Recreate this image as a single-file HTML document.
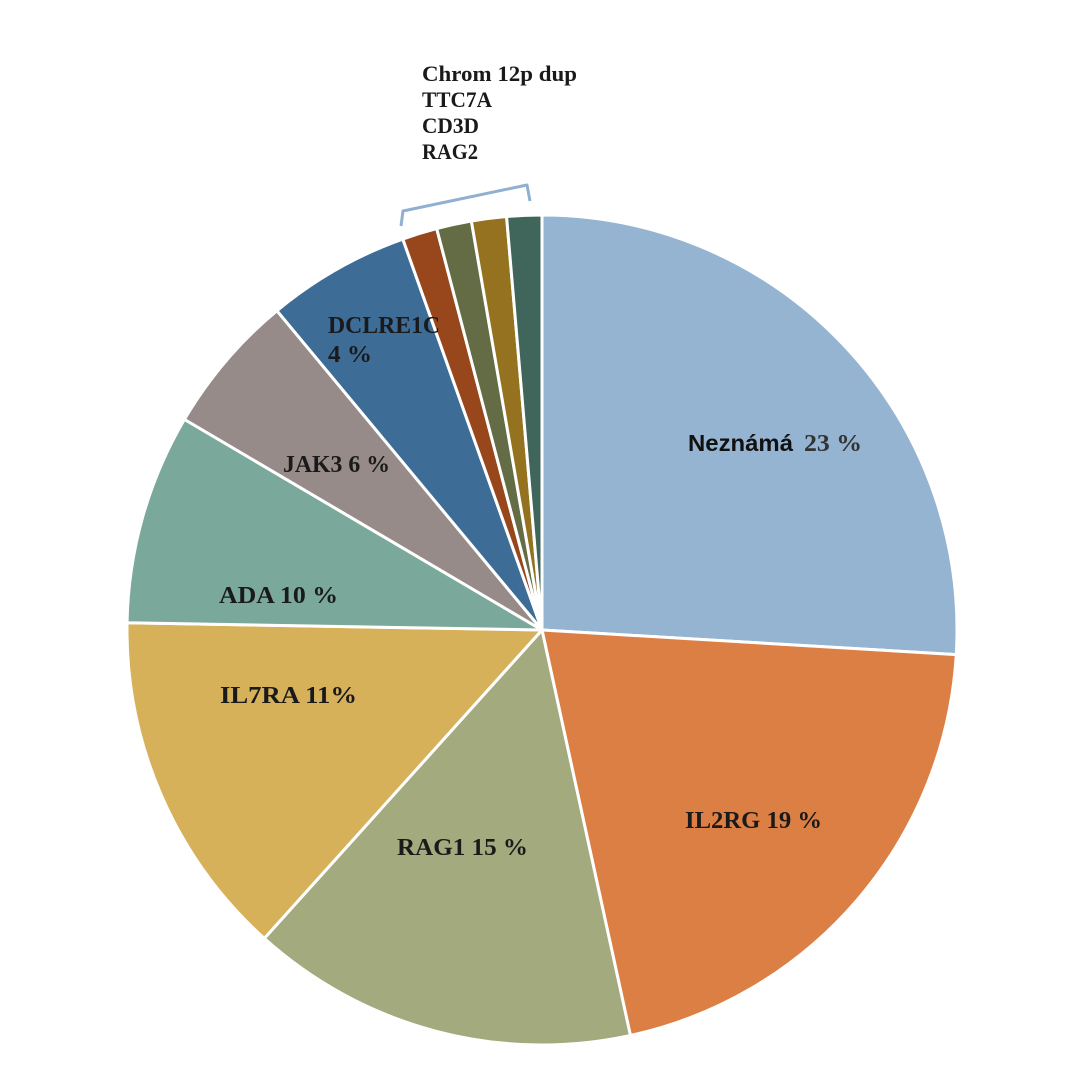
<!DOCTYPE html>
<html><head><meta charset="utf-8"><style>
html,body{margin:0;padding:0;background:#fff;width:1080px;height:1080px;overflow:hidden}
</style></head><body>
<svg id="s" width="1080" height="1080" xmlns="http://www.w3.org/2000/svg">
<g id="pie"></g>
<path d="M401,226 L403,211 L527,185 L530,201" fill="none" stroke="#8fb0d0" stroke-width="3" stroke-linejoin="round"/>
<g font-family="Liberation Serif, serif" font-weight="bold" font-size="22" fill="#1a1a1a" lengthAdjust="spacingAndGlyphs">
<text x="422" y="81" textLength="155" lengthAdjust="spacingAndGlyphs">Chrom 12p dup</text>
<text x="422" y="107" textLength="70" lengthAdjust="spacingAndGlyphs">TTC7A</text>
<text x="422" y="133" textLength="57" lengthAdjust="spacingAndGlyphs">CD3D</text>
<text x="422" y="159" textLength="56" lengthAdjust="spacingAndGlyphs">RAG2</text>
<text x="685" y="828" font-size="24" textLength="137" lengthAdjust="spacingAndGlyphs">IL2RG 19 %</text>
<text x="397" y="855" font-size="24" textLength="131" lengthAdjust="spacingAndGlyphs">RAG1 15 %</text>
<text x="220" y="703" font-size="24" textLength="137" lengthAdjust="spacingAndGlyphs">IL7RA 11%</text>
<text x="219" y="603" font-size="24" textLength="119" lengthAdjust="spacingAndGlyphs">ADA 10 %</text>
<text x="283" y="472" font-size="24" textLength="107" lengthAdjust="spacingAndGlyphs">JAK3 6 %</text>
<text x="328" y="333" font-size="24" textLength="112" lengthAdjust="spacingAndGlyphs">DCLRE1C</text>
<text x="328" y="362" font-size="24" textLength="44" lengthAdjust="spacingAndGlyphs">4 %</text>
<text x="804" y="451" font-size="24" fill="#333" textLength="58" lengthAdjust="spacingAndGlyphs">23 %</text>
</g>
<text x="688" y="451" font-family="Liberation Sans, sans-serif" font-weight="bold" font-size="23" fill="#111" textLength="105" lengthAdjust="spacingAndGlyphs">Neznámá</text>
</svg>
<script>
var cx=542,cy=630,r=415;
var a=[0,93.4,167.7,222,271,300.5,320.3,340.4,345.3,350.2,355.1,360];
var c=["#94b4d2","#dc7f45","#a3aa7e","#d7b05a","#7aa89b","#978b89","#3d6c97","#98471d","#636c45","#94721f","#40665b"];
function p(d){var t=(d-90)*Math.PI/180;return [cx+r*Math.cos(t),cy+r*Math.sin(t)];}
var g=document.getElementById("pie"),h="";
for(var i=0;i<c.length;i++){var s=p(a[i]),e=p(a[i+1]),l=(a[i+1]-a[i])>180?1:0;
h+='<path d="M'+cx+','+cy+' L'+s[0]+','+s[1]+' A'+r+','+r+' 0 '+l+' 1 '+e[0]+','+e[1]+' Z" fill="'+c[i]+'" stroke="#fff" stroke-width="3" stroke-linejoin="round"/>';}
g.innerHTML=h;
</script>
</body></html>
